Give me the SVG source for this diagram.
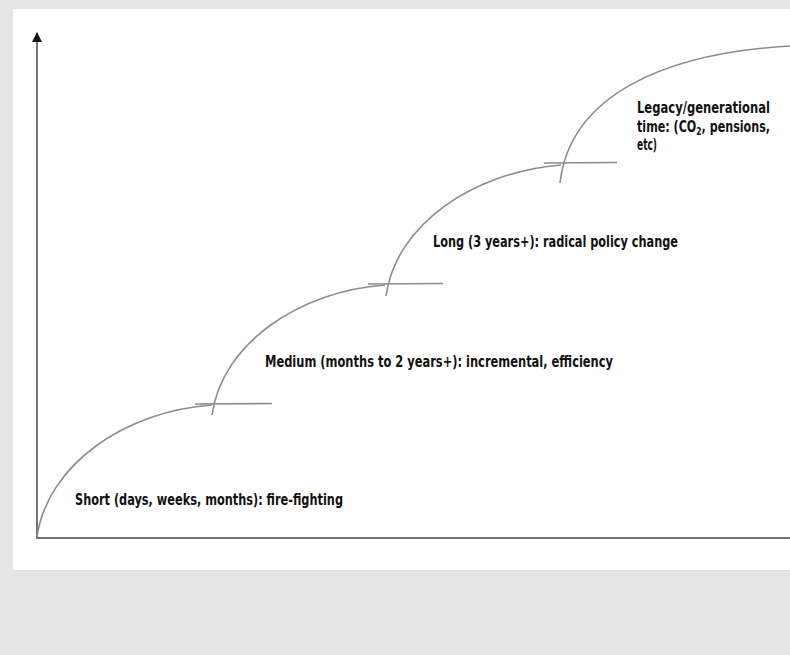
<svg xmlns="http://www.w3.org/2000/svg" width="790" height="655" viewBox="0 0 790 655">
<style>
.axis{stroke:#747474;stroke-width:2;fill:none}
.arc{stroke:#8c8c8c;stroke-width:1.6;fill:none}
.lbl{font-family:"Liberation Sans Narrow","DejaVu Sans Condensed","Liberation Sans",sans-serif;font-weight:bold;font-size:16px;fill:#111}
</style>
<defs>
<marker id="ah" viewBox="0 0 10 10" refX="9" refY="5" markerWidth="10" markerHeight="10" markerUnits="userSpaceOnUse" orient="auto">
<path d="M0,0 L10,5 L0,10 Z" fill="#151515"/>
</marker>
</defs>
<rect x="0" y="0" width="790" height="655" fill="#e5e5e5"/>
<rect x="13" y="9" width="777" height="561" fill="#ffffff"/>
<g id="axes">
<line class="axis" x1="37" y1="539" x2="37" y2="33" marker-end="url(#ah)"/>
<line class="axis" x1="36" y1="538" x2="790" y2="538"/>
</g>
<g id="connectors">
<path class="arc" d="M37,537 C47,465 125,411 212,405"/>
<line class="arc" x1="195" y1="404" x2="272" y2="403.5"/>
<path class="arc" d="M212,415 c10,-72 88,-124 173,-130"/>
<line class="arc" x1="368" y1="284" x2="443" y2="283.5"/>
<path class="arc" d="M386,296 c10,-72 88,-124 175,-131"/>
<line class="arc" x1="544" y1="163" x2="617" y2="162.5"/>
<path class="arc" d="M560,183 c10,-88 105,-130 230,-137"/>
</g>
<g id="node-short">
<text class="lbl" x="75" y="505" textLength="268" lengthAdjust="spacingAndGlyphs">Short (days, weeks, months):  fire-fighting</text>
</g>
<g id="node-medium">
<text class="lbl" x="265" y="366.5" textLength="348" lengthAdjust="spacingAndGlyphs">Medium (months to 2 years+):  incremental, efficiency</text>
</g>
<g id="node-long">
<text class="lbl" x="433" y="246.5" textLength="245" lengthAdjust="spacingAndGlyphs">Long (3 years+):  radical policy change</text>
</g>
<g id="node-legacy">
<text class="lbl" x="637" y="113" textLength="133" lengthAdjust="spacingAndGlyphs">Legacy/generational</text>
<text class="lbl" x="637" y="131.5" textLength="133" lengthAdjust="spacingAndGlyphs">time: (CO<tspan dy="3" font-size="11">2</tspan><tspan dy="-3">, pensions,</tspan></text>
<text class="lbl" x="637" y="149.5" textLength="20" lengthAdjust="spacingAndGlyphs">etc)</text>
</g>
</svg>
